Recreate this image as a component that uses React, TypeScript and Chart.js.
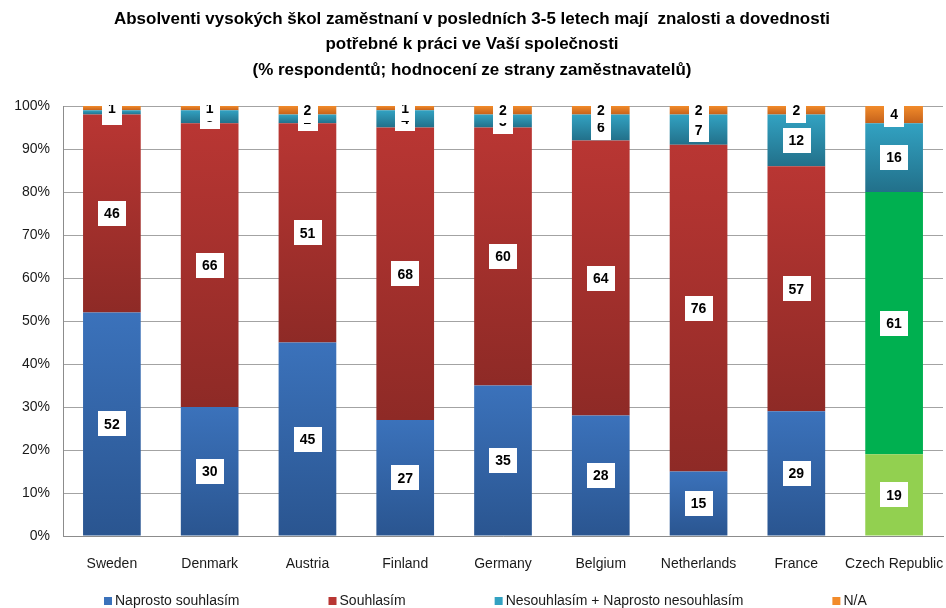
import React, { useEffect, useRef } from "react";
import { Chart, registerables } from "chart.js";

Chart.register(...registerables);

const categories = ["Sweden", "Denmark", "Austria", "Finland", "Germany", "Belgium", "Netherlands", "France", "Czech Republic"];
const naprosto = [52, 30, 45, 27, 35, 28, 15, 29, 19];
const souhlasim = [46, 66, 51, 68, 60, 64, 76, 57, 61];
const nesouhlasim = [1, 3, 2, 4, 3, 6, 7, 12, 16];
const na = [1, 1, 2, 1, 2, 2, 2, 2, 4];
const seriesNames = ["Naprosto souhlasím", "Souhlasím", "Nesouhlasím + Naprosto nesouhlasím", "N/A"];
const titleLines = [
  "Absolventi vysokých škol zaměstnaní v posledních 3-5 letech mají  znalosti a dovednosti",
  "potřebné k práci ve Vaší společnosti",
  "(% respondentů; hodnocení ze strany zaměstnavatelů)",
];
const yTicks = [0, 10, 20, 30, 40, 50, 60, 70, 80, 90, 100];

const allSeries = [naprosto, souhlasim, nesouhlasim, na];
const lightColors = ["#3b72bb", "#b93633", "#32a2c2", "#f28b2a"];
const darkColors = ["#2a5590", "#8e2a26", "#22708a", "#c4611b"];
const czechSolid = ["#92d050", "#00b050"];
const FONT = "'Liberation Sans', Arial, sans-serif";

function makeBg(ds: number) {
  return (ctx: any) => {
    const i = ctx.dataIndex;
    if (ctx.type !== "data") return lightColors[ds];
    if (i === 8 && ds < 2) return czechSolid[ds];
    const chart = ctx.chart;
    const y = chart.scales && chart.scales.y;
    if (!y) return lightColors[ds];
    let start = 0;
    for (let k = 0; k < ds; k++) start += allSeries[k][i];
    const top = y.getPixelForValue(start + allSeries[ds][i]);
    const bottom = y.getPixelForValue(start);
    if (!isFinite(top) || !isFinite(bottom) || top === bottom) return lightColors[ds];
    const g = chart.ctx.createLinearGradient(0, top, 0, bottom);
    g.addColorStop(0, lightColors[ds]);
    g.addColorStop(1, darkColors[ds]);
    return g;
  };
}

const labelPlugin = {
  id: "boxLabels",
  afterDatasetsDraw(chart: any) {
    const ctx = chart.ctx;
    const area = chart.chartArea;
    ctx.save();
    ctx.beginPath();
    ctx.rect(area.left, area.top - 1, area.right - area.left, area.bottom - area.top + 1);
    ctx.clip();
    ctx.font = `bold 14px ${FONT}`;
    ctx.textAlign = "center";
    ctx.textBaseline = "middle";
    chart.data.datasets.forEach((ds: any, di: number) => {
      const meta = chart.getDatasetMeta(di);
      meta.data.forEach((bar: any, i: number) => {
        const v = ds.data[i];
        const txt = String(v);
        const cy = (bar.y + bar.base) / 2;
        const w = ctx.measureText(txt).width + 12;
        const h = 25;
        ctx.fillStyle = "#ffffff";
        ctx.fillRect(Math.round(bar.x - w / 2), Math.round(cy - h / 2), Math.round(w), h);
        ctx.fillStyle = "#000000";
        ctx.fillText(txt, bar.x, cy + 1);
      });
    });
    ctx.restore();
  },
};

const decorPlugin = {
  id: "decor",
  afterDraw(chart: any) {
    const ctx = chart.ctx;
    ctx.save();
    // title
    ctx.fillStyle = "#000000";
    ctx.textBaseline = "middle";
    ctx.textAlign = "center";
    ctx.font = `bold 16px ${FONT}`;
    const w1 = ctx.measureText(titleLines[0]).width;
    const sx = 716 / w1;
    const ys = [20, 45, 71];
    titleLines.forEach((t, k) => {
      ctx.save();
      ctx.translate(472, ys[k]);
      ctx.scale(sx, 1);
      ctx.fillText(t, 0, 0);
      ctx.restore();
    });
    // legend
    ctx.font = `14px ${FONT}`;
    ctx.textAlign = "left";
    let x = 104;
    const ly = 601;
    seriesNames.forEach((n, k) => {
      ctx.fillStyle = lightColors[k];
      ctx.fillRect(x, ly - 4, 8, 8);
      ctx.fillStyle = "#1a1a1a";
      ctx.fillText(n, x + 11, ly);
      x += 11 + ctx.measureText(n).width + 89;
    });
    ctx.restore();
  },
};

export default function App() {
  const ref = useRef<HTMLCanvasElement>(null);
  useEffect(() => {
    if (!ref.current) return;
    const chart = new Chart(ref.current, {
      type: "bar",
      data: {
        labels: categories,
        datasets: allSeries.map((d, k) => ({
          label: seriesNames[k],
          data: d,
          backgroundColor: makeBg(k),
          borderWidth: 0,
          categoryPercentage: 1,
          barPercentage: 0.59,
        })),
      },
      options: {
        animation: false,
        responsive: false,
        maintainAspectRatio: false,
        layout: { padding: { top: 106, left: 0, right: 3, bottom: 0 } },
        plugins: { legend: { display: false }, title: { display: false }, tooltip: { enabled: false } },
        scales: {
          x: {
            stacked: true,
            grid: { display: false, drawTicks: false },
            border: { display: true, color: "#8c8c8c" },
            ticks: { padding: 20, color: "#1a1a1a", font: { family: FONT, size: 14 }, maxRotation: 0, autoSkip: false },
            afterFit: (s: any) => { s.height = 72; s.paddingLeft = 0; s.paddingRight = 0; },
          },
          y: {
            stacked: true,
            min: 0,
            max: 100,
            afterBuildTicks: (s: any) => { s.ticks = yTicks.map((v) => ({ value: v })); },
            grid: { color: "#a3a3a3", drawTicks: false },
            border: { display: true, color: "#8c8c8c" },
            ticks: { padding: 13, color: "#1a1a1a", font: { family: FONT, size: 14 }, callback: (v: any) => v + "%" },
            afterFit: (s: any) => { s.width = 63; s.paddingTop = 0; s.paddingBottom = 0; },
          },
        },
      },
      plugins: [labelPlugin, decorPlugin],
    });
    return () => chart.destroy();
  }, []);
  return (
    <div style={{ position: "fixed", left: 0, top: 0, width: 946, height: 608, background: "#fff" }}>
      <canvas ref={ref} width={946} height={608} />
    </div>
  );
}
